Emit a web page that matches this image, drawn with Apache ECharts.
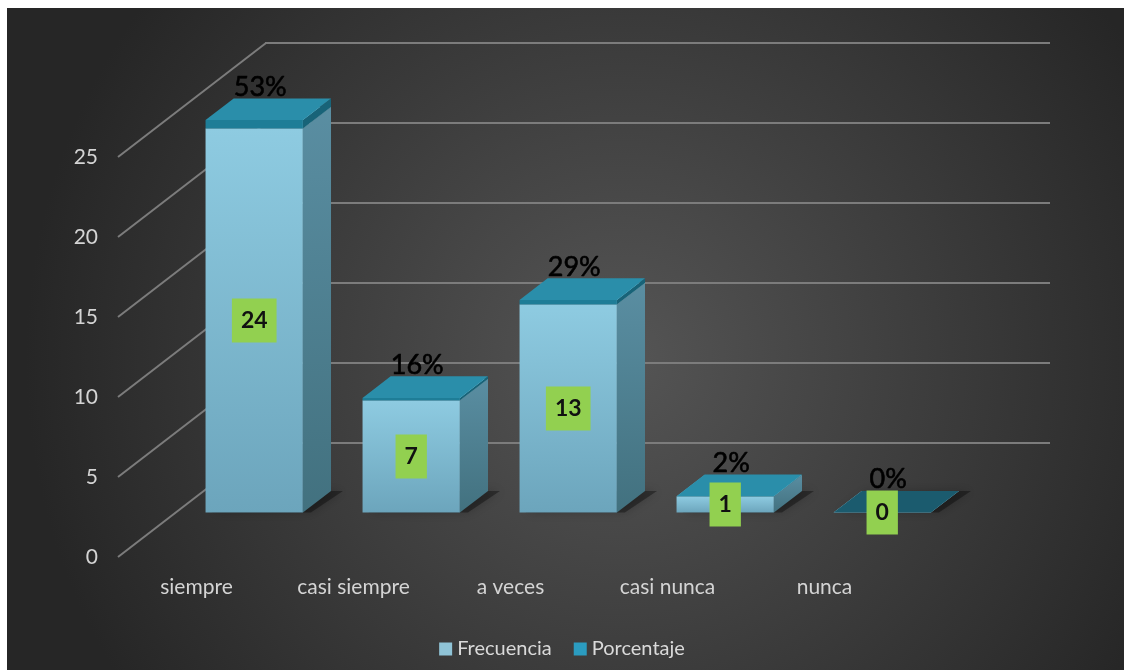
<!DOCTYPE html>
<html>
<head>
<meta charset="utf-8">
<title>Frecuencia y porcentaje</title>
<script src="https://cdn.jsdelivr.net/npm/echarts@6/dist/echarts.min.js"></script>
<style>
  html, body { margin: 0; padding: 0; background: #ffffff; }
  #chart { width: 1124px; height: 670px; }
</style>
</head>
<body>
<div id="chart"></div>
<script>
// Answer categories and the two series
const categories = ['siempre', 'casi siempre', 'a veces', 'casi nunca', 'nunca'];
const frecuencia = [24, 7, 13, 1, 0];
const porcentaje = [0.53, 0.16, 0.29, 0.02, 0];
const yTicks = [0, 5, 10, 15, 20, 25];

// Oblique "3D" projection: offset from the front edge of the floor to the back wall
const DEPTH = [148, -114];
const BAR_POS = 0.39;     // depth fraction where a column's front face sits
const BAR_DEPTH = 0.19;   // depth fraction taken up by a column
const BAR_WIDTH = 0.62;   // fraction of the category band

const FONT = 'Lato, "Open Sans", "Noto Sans", sans-serif';

function columnBox(api, i, lo, hi) {
  const base = api.coord([i, lo]);
  const top = api.coord([i, hi]);
  const band = api.size([1, 0])[0];
  const hw = band * BAR_WIDTH / 2;
  const ox = DEPTH[0] * BAR_POS, oy = DEPTH[1] * BAR_POS;
  return {
    x0: base[0] + ox - hw,
    x1: base[0] + ox + hw,
    yb: base[1] + oy,
    yt: top[1] + oy,
    dx: DEPTH[0] * BAR_DEPTH,
    dy: DEPTH[1] * BAR_DEPTH
  };
}

function quad(pts, fill, extra) {
  return Object.assign({ type: 'polygon', shape: { points: pts }, style: { fill: fill } }, extra || {});
}

function vGrad(a, b) {
  return new echarts.graphic.LinearGradient(0, 0, 0, 1, [
    { offset: 0, color: a }, { offset: 1, color: b }
  ]);
}

// Column body (Frecuencia)
function renderFrecuencia(params, api) {
  const i = api.value(0), f = api.value(1);
  const b = columnBox(api, i, 0, f);
  const children = [];
  // soft floor shadow behind the column
  children.push(quad([
    [b.x0 + 6, b.yb], [b.x1 + 8, b.yb],
    [b.x1 + b.dx + 12, b.yb + b.dy], [b.x0 + b.dx + 6, b.yb + b.dy]
  ], 'rgba(0,0,0,0.35)', { style: { fill: 'rgba(0,0,0,0.35)', shadowBlur: 10, shadowColor: 'rgba(0,0,0,0.6)' } }));
  if (b.yb - b.yt > 0.5) {
    children.push({
      type: 'rect',
      shape: { x: b.x0, y: b.yt, width: b.x1 - b.x0, height: b.yb - b.yt },
      style: { fill: vGrad('#8ecbe1', '#6ca5bc') }
    });
    children.push(quad([
      [b.x1, b.yb], [b.x1, b.yt], [b.x1 + b.dx, b.yt + b.dy], [b.x1 + b.dx, b.yb + b.dy]
    ], vGrad('#5a8ea2', '#42717f')));
  }
  children.push(quad([
    [b.x0, b.yt], [b.x1, b.yt], [b.x1 + b.dx, b.yt + b.dy], [b.x0 + b.dx, b.yt + b.dy]
  ], '#a3d6e8'));
  return { type: 'group', children: children };
}

// Cap stacked on each column (Porcentaje)
function renderPorcentaje(params, api) {
  const i = api.value(0), f = api.value(1), p = api.value(2);
  const b = columnBox(api, i, f, f + p);
  const children = [];
  if (b.yb - b.yt > 0.3) {
    children.push({
      type: 'rect',
      shape: { x: b.x0, y: b.yt, width: b.x1 - b.x0, height: b.yb - b.yt },
      style: { fill: '#1e7d97' }
    });
    children.push(quad([
      [b.x1, b.yb], [b.x1, b.yt], [b.x1 + b.dx, b.yt + b.dy], [b.x1 + b.dx, b.yb + b.dy]
    ], '#186378'));
  }
  children.push(quad([
    [b.x0, b.yt], [b.x1, b.yt], [b.x1 + b.dx, b.yt + b.dy], [b.x0 + b.dx, b.yt + b.dy]
  ], (f + p) > 0 ? '#2a8eaa' : '#1b5b6e'));
  return { type: 'group', children: children };
}

// Value badges (frequency, centred on the column) and percent labels above the cap
function renderLabels(params, api) {
  const i = api.value(0), f = api.value(1), p = api.value(2);
  const body = columnBox(api, i, 0, f);
  const cap = columnBox(api, i, f, f + p);
  return {
    type: 'group',
    children: [
      {
        type: 'text',
        z2: 1,
        x: (body.x0 + body.x1) / 2,
        y: (body.yt + body.yb) / 2,
        style: {
          text: String(f),
          align: 'center',
          verticalAlign: 'middle',
          fill: '#111111',
          font: 'bold 23px ' + FONT,
          backgroundColor: '#92d050',
          padding: [11, 9, 10, 9]
        }
      },
      {
        type: 'text',
        z2: 2,
        x: (cap.x0 + cap.x1) / 2 + 6,
        y: cap.yt + cap.dy / 2 - 22,
        style: {
          text: Math.round(p * 100) + '%',
          align: 'center',
          verticalAlign: 'middle',
          fill: '#000000',
          font: '27px ' + FONT,
          stroke: '#000000',
          lineWidth: 0.6
        }
      }
    ]
  };
}

// Side-wall gridlines running from the value labels back to the wall
function renderSideWall(params, api) {
  const y = api.coord([0, api.value(1)])[1];
  const x = params.coordSys.x;
  return {
    type: 'line',
    shape: { x1: x, y1: y, x2: x + DEPTH[0], y2: y + DEPTH[1] },
    style: { stroke: '#7c7c7c', lineWidth: 2 }
  };
}

const chart = echarts.init(document.getElementById('chart'), null, { renderer: 'canvas' });

chart.setOption({
  animation: false,
  backgroundColor: '#ffffff',
  graphic: [{
    type: 'rect',
    z: -100,
    silent: true,
    shape: { x: 7, y: 8, width: 1117, height: 662 },
    style: {
      fill: new echarts.graphic.RadialGradient(0.55, 0.53, 0.9, [
        { offset: 0, color: '#555555' },
        { offset: 1, color: '#262626' }
      ])
    }
  }],
  legend: {
    data: ['Frecuencia', 'Porcentaje'],
    left: 'center',
    top: 634,
    itemWidth: 13,
    itemHeight: 13,
    itemGap: 22,
    icon: 'rect',
    textStyle: { color: '#dadada', fontSize: 20, fontFamily: FONT }
  },
  grid: [
    { left: 118, top: 157, width: 785, height: 400 },   // front edge
    { left: 265, top: 43, width: 785, height: 400 }     // back wall
  ],
  xAxis: [
    {
      type: 'category', gridIndex: 0, data: categories,
      axisLine: { show: false }, axisTick: { show: false },
      axisLabel: { color: '#d4d4d4', fontSize: 21, fontFamily: FONT, margin: 20 },
      splitLine: { show: false }
    },
    {
      type: 'category', gridIndex: 1, data: categories,
      axisLine: { show: false }, axisTick: { show: false },
      axisLabel: { show: false }, splitLine: { show: false }
    }
  ],
  yAxis: [
    {
      type: 'value', gridIndex: 0, min: 0, max: 25, interval: 5,
      axisLine: { show: false }, axisTick: { show: false },
      axisLabel: { color: '#d4d4d4', fontSize: 21, fontFamily: FONT, margin: 20 },
      splitLine: { show: false }
    },
    {
      type: 'value', gridIndex: 1, min: 0, max: 25, interval: 5,
      axisLine: { show: false }, axisTick: { show: false },
      axisLabel: { show: false },
      splitLine: { show: true, lineStyle: { color: '#7c7c7c', width: 2 } }
    }
  ],
  series: [
    {
      type: 'custom',
      name: 'sideWall',
      xAxisIndex: 0, yAxisIndex: 0,
      silent: true,
      z: 1,
      renderItem: renderSideWall,
      data: yTicks.map(v => [0, v]),
      encode: { x: 0, y: 1 }
    },
    {
      type: 'custom',
      name: 'Frecuencia',
      xAxisIndex: 0, yAxisIndex: 0,
      z: 3,
      itemStyle: { color: '#8fc3d6' },
      renderItem: renderFrecuencia,
      data: categories.map((c, i) => [i, frecuencia[i]]),
      encode: { x: 0, y: 1 }
    },
    {
      type: 'custom',
      name: 'Porcentaje',
      xAxisIndex: 0, yAxisIndex: 0,
      z: 4,
      itemStyle: { color: '#2b9cc0' },
      renderItem: renderPorcentaje,
      data: categories.map((c, i) => [i, frecuencia[i], porcentaje[i]]),
      encode: { x: 0, y: 1 }
    },
    {
      type: 'custom',
      name: 'labels',
      xAxisIndex: 0, yAxisIndex: 0,
      silent: true,
      z: 5,
      renderItem: renderLabels,
      data: categories.map((c, i) => [i, frecuencia[i], porcentaje[i]]),
      encode: { x: 0, y: 1 }
    }
  ]
});
</script>
</body>
</html>
